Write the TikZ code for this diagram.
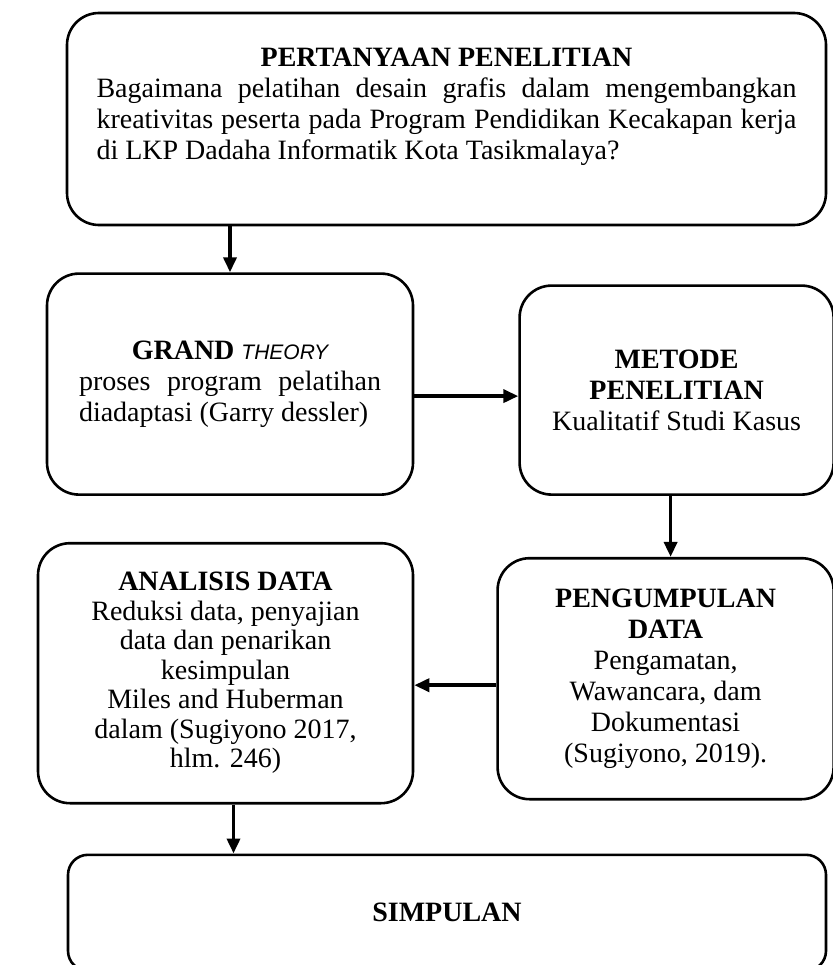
\documentclass[tikz,border=0pt]{standalone}
\usepackage{fontspec}
\setmainfont{Liberation Serif}
\setsansfont{Liberation Sans}
\usetikzlibrary{arrows.meta,positioning}

\begin{document}
\begin{tikzpicture}[->,>={Triangle[length=15pt,width=13pt]},line width=3.6pt,
                    box/.style={draw,line width=2.6pt,rounded corners=32pt,align=center,
                                inner sep=4pt,font=\fontsize{28}{31}\selectfont}]

	\useasboundingbox (0pt,0pt) rectangle (832pt,-965pt);

  	\node[box,minimum width=759pt,minimum height=212pt] (q) at (446.5pt,-119pt)
  		{\parbox[c][142pt][t]{700pt}{\fontsize{28}{31}\selectfont
  		{\centering\textbf{PERTANYAAN PENELITIAN}\par}\noindent Bagaimana pelatihan desain grafis dalam mengembangkan\linebreak
  		kreativitas peserta pada Program Pendidikan Kecakapan kerja\linebreak di LKP Dadaha Informatik Kota Tasikmalaya?}};

  	\node[box,minimum width=366pt,minimum height=221pt,text width=302pt,align=justify] (grand) [below right=46pt and -20pt of q.south west]
  		{{\centering\textbf{GRAND} {\sffamily\itshape\fontsize{21}{31}\selectfont THEORY}\par}\noindent proses program pelatihan\linebreak
  		diadaptasi (Garry dessler)};
  	\node[box,minimum width=314pt,minimum height=209pt] (metode) [below right=12pt and 104pt of grand.north east]
  		{\textbf{METODE}\\\textbf{PENELITIAN}\\Kualitatif Studi Kasus};
	\node[box,minimum width=336pt,minimum height=241pt] (kumpul) [below=61pt of metode.south east,anchor=north east]
		{\textbf{PENGUMPULAN}\\\textbf{DATA}\\Pengamatan,\\Wawancara, dam\\Dokumentasi\\(Sugiyono, 2019).};
	\node[box,minimum width=375pt,minimum height=260pt,font=\fontsize{28}{29.5}\selectfont] (analisis) [below=46pt of grand.south east,anchor=north east]
		{\textbf{ANALISIS DATA}\\Reduksi data, penyajian\\data dan penarikan\\kesimpulan\\Miles and Huberman\\dalam (Sugiyono 2017,\\hlm. 246)};
	\node[box,minimum width=758pt,minimum height=116pt,rounded corners=20pt] (simpulan) [below=49pt of analisis.south west,anchor=north west,xshift=30pt]
		{\textbf{SIMPULAN}};

	\path (grand.north |- q.south) edge (grand.north);
	\path ([yshift=-12pt]grand.east) edge ([yshift=-12pt]grand.east -| metode.west);
	\path ([xshift=-6pt]metode.south) edge ([xshift=-6pt]metode.south |- kumpul.north);
	\path ([yshift=-6.5pt]kumpul.west) edge ([yshift=-6.5pt]kumpul.west -| analisis.east);
	\path ([xshift=8pt]analisis.south) edge ([xshift=8pt]analisis.south |- simpulan.north);

\end{tikzpicture}
\end{document}
